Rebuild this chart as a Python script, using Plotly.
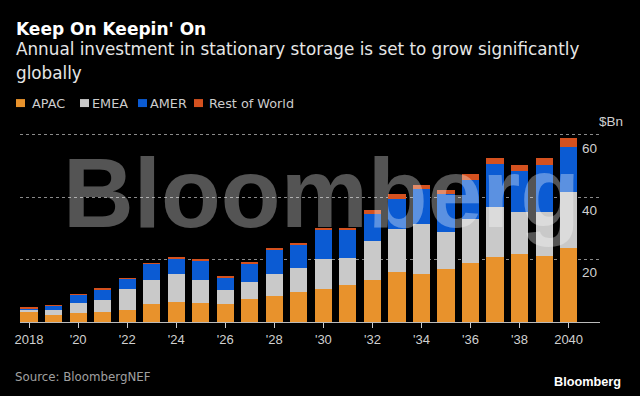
import plotly.graph_objects as go

years = list(range(2018, 2041))
apac = [3.2, 2.3, 2.8, 3.3, 3.8, 5.7, 6.4, 6.1, 5.8, 7.3, 8.5, 9.6, 10.5, 12.0,
        13.5, 15.9, 15.4, 16.9, 19.0, 20.8, 21.7, 21.3, 23.8]
emea = [0.9, 1.7, 3.3, 3.6, 6.7, 7.9, 8.9, 7.4, 4.4, 5.6, 6.8, 7.7, 9.7, 8.4,
        12.6, 13.9, 16.2, 12.0, 14.1, 16.2, 13.5, 13.9, 18.0]
amer = [0.3, 1.3, 2.6, 3.6, 3.3, 5.2, 5.1, 6.2, 4.0, 5.9, 8.1, 7.6, 9.4, 9.2,
        8.6, 9.8, 11.1, 12.3, 12.6, 13.7, 13.2, 15.2, 14.5]
row = [0.2, 0.1, 0.15, 0.1, 0.1, 0.1, 0.3, 0.3, 0.3, 0.2, 0.2, 0.4, 0.6, 0.6,
       1.2, 1.4, 1.3, 1.2, 1.7, 1.8, 2.0, 2.3, 2.8]

series_names = ["APAC", "EMEA", "AMER", "Rest of World"]
series_vals = [apac, emea, amer, row]
colors = ["#E8922C", "#C9C9C9", "#0B5BD3", "#D4511F"]

x_tickvals = list(range(2018, 2041, 2))
x_ticktext = ["2018", "'20", "'22", "'24", "'26", "'28", "'30", "'32", "'34",
              "'36", "'38", "2040"]
y_tickvals = [0, 20, 40, 60]
y_ticktext = ["0", "20", "40", "60"]

FONT = "Liberation Sans, Arial, sans-serif"
WIDE = "DejaVu Sans, Verdana, sans-serif"

W, H = 640, 396
ml, mr, mt, mb = 20, 40, 130, 73.5
pw = W - ml - mr
ph = H - mt - mb

def px(x):
    return (x - ml) / pw

def py(y):
    return (H - mb - y) / ph

fig = go.Figure()
for name, vals, c in zip(series_names, series_vals, colors):
    fig.add_trace(go.Bar(x=years, y=vals, name=name, marker_color=c,
                         marker_line_width=0, showlegend=False))

fig.update_layout(
    width=W, height=H,
    margin=dict(l=ml, r=mr, t=mt, b=mb, autoexpand=False),
    paper_bgcolor="#000000", plot_bgcolor="#000000",
    barmode="stack", bargap=0.3,
    font=dict(family=FONT, color="#cccccc", size=13),
    xaxis=dict(range=[2017.63, 2041.28], tickvals=x_tickvals, ticktext=x_ticktext,
               ticks="outside", ticklen=5, tickcolor="#cccccc", tickwidth=1,
               showline=True, linecolor="#bbbbbb", linewidth=1,
               showgrid=False, zeroline=False, automargin=False,
               tickfont=dict(size=13, color="#d0d0d0", family=FONT)),
    yaxis=dict(range=[0, 61.6], side="right", tickvals=y_tickvals, ticktext=y_ticktext,
               ticklabelposition="inside", ticklabelshift=13, ticklabelstandoff=0,
               showgrid=True, gridcolor="#8a8a8a", griddash="dot", gridwidth=1,
               zeroline=False, showline=False, automargin=False,
               tickfont=dict(size=13.5, color="#d0d0d0", family=FONT)),
)

ann = []
# watermark
ann.append(dict(text="<b>Bloomberg</b>", xref="paper", yref="paper", x=px(321), y=py(193),
                xanchor="center", yanchor="middle", showarrow=False,
                font=dict(family=FONT, size=98, color="rgba(255,255,255,0.33)")))
# title
ann.append(dict(text="<b>Keep On Keepin' On</b>", xref="paper", yref="paper",
                x=px(14), y=py(29), xanchor="left", yanchor="middle", showarrow=False,
                font=dict(family=WIDE, size=17, color="#ffffff")))
ann.append(dict(text="Annual investment in stationary storage is set to grow significantly",
                xref="paper", yref="paper", x=px(14), y=py(48.5), xanchor="left",
                yanchor="middle", showarrow=False,
                font=dict(family=WIDE, size=16.8, color="#e6e6e6")))
ann.append(dict(text="globally", xref="paper", yref="paper", x=px(14), y=py(73),
                xanchor="left", yanchor="middle", showarrow=False,
                font=dict(family=WIDE, size=16.8, color="#e6e6e6")))
# legend
leg_sw = [16, 80, 138, 194]
leg_tx = [30, 90, 148, 207]
for name, c, sx, tx in zip(series_names, colors, leg_sw, leg_tx):
    fig.add_shape(type="rect", xref="paper", yref="paper",
                  x0=px(sx), x1=px(sx + 9), y0=py(107), y1=py(99),
                  fillcolor=c, line_width=0)
    ann.append(dict(text=name, xref="paper", yref="paper", x=px(tx), y=py(103),
                    xanchor="left", yanchor="middle", showarrow=False,
                    font=dict(family=WIDE, size=12.8, color="#cccccc")))
# $Bn unit
ann.append(dict(text="$Bn", xref="paper", yref="y", x=1.0, y=60, xanchor="left",
                yanchor="middle", yshift=13, xshift=-3, showarrow=False,
                font=dict(family=FONT, size=13.5, color="#d0d0d0")))
# footer
ann.append(dict(text="Source: BloombergNEF", xref="paper", yref="paper", x=px(13),
                y=py(378), xanchor="left", yanchor="middle", showarrow=False,
                font=dict(family=WIDE, size=11.8, color="#a0a0a0")))
ann.append(dict(text="<b>Bloomberg</b>", xref="paper", yref="paper", x=px(623),
                y=py(383), xanchor="right", yanchor="middle", showarrow=False,
                font=dict(family=FONT, size=12.7, color="#ffffff")))
fig.update_layout(annotations=ann)

fig.write_html("out.html", config={"displayModeBar": False},
               post_script="document.body.style.margin='0px';document.body.style.padding='0px';")
